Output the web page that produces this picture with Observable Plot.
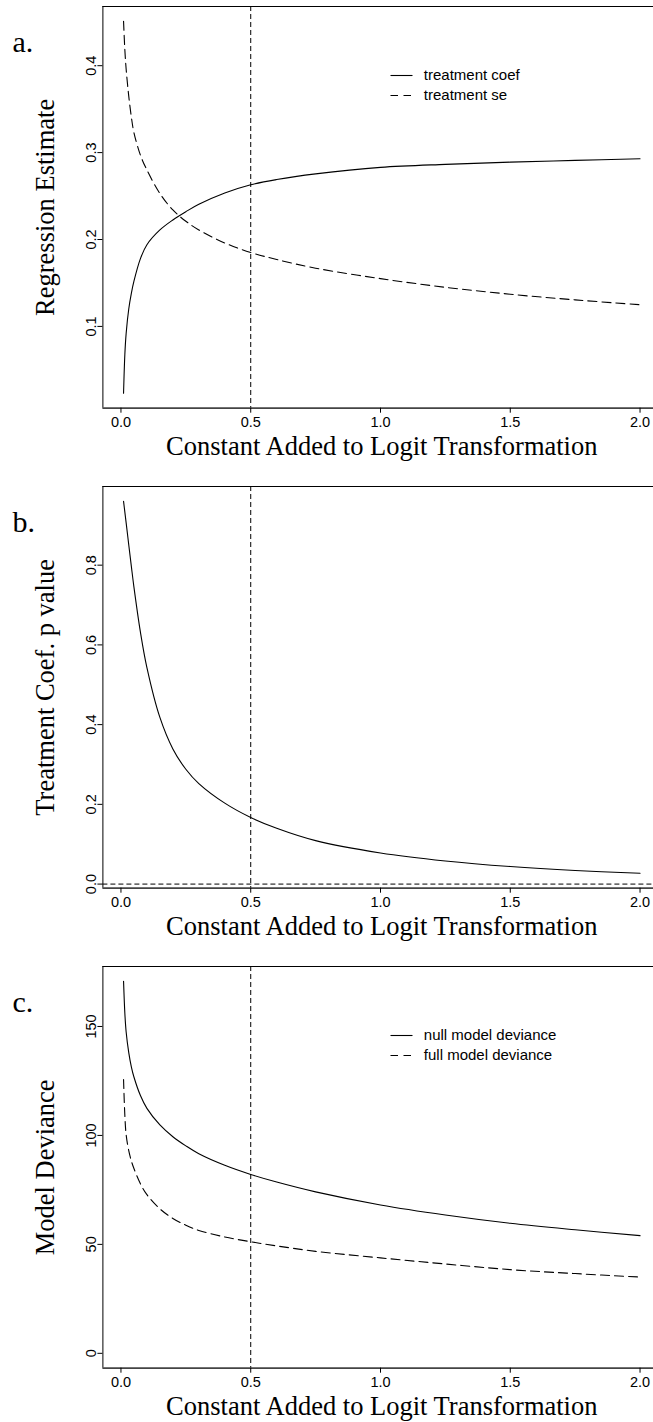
<!DOCTYPE html>
<html><head><meta charset="utf-8">
<script src="https://cdn.jsdelivr.net/npm/d3@7"></script>
<script src="https://cdn.jsdelivr.net/npm/@observablehq/plot@0.6"></script>
<style>body{margin:0;background:#fff;} #chart svg{display:block;}</style>
</head><body><div id="chart"></div>
<script>
// ---- data ----
const constant = [0.01, 0.015, 0.02, 0.03, 0.04, 0.05, 0.075, 0.1, 0.15, 0.2, 0.25, 0.3, 0.4, 0.5, 0.6, 0.75, 1.0, 1.25, 1.5, 1.75, 2.0];
const treatmentCoef = [0.023, 0.068, 0.092, 0.120, 0.138, 0.152, 0.178, 0.194, 0.211, 0.2225, 0.232, 0.2405, 0.2535, 0.263, 0.269, 0.2755, 0.283, 0.2865, 0.289, 0.291, 0.293];
const treatmentSe = [0.451, 0.418, 0.396, 0.365, 0.341, 0.323, 0.297, 0.280, 0.253, 0.234, 0.221, 0.211, 0.196, 0.185, 0.177, 0.167, 0.155, 0.145, 0.137, 0.1305, 0.125];
const pValue = [0.96, 0.933, 0.906, 0.851, 0.797, 0.745, 0.632, 0.543, 0.418, 0.339, 0.288, 0.252, 0.203, 0.167, 0.14, 0.109, 0.078, 0.058, 0.044, 0.034, 0.027];
const nullDeviance = [170.7, 156, 147.5, 138, 131.5, 126.8, 118.3, 112.4, 104.8, 99.4, 95.2, 91.6, 86.3, 82.1, 78.6, 74.1, 68.1, 63.5, 59.7, 56.7, 54.0];
const fullDeviance = [125.7, 109, 100.3, 93.0, 88.3, 84.8, 77.8, 72.8, 66.3, 61.9, 58.8, 56.4, 53.4, 51.2, 49.3, 46.8, 43.8, 41.0, 38.4, 36.6, 35.0];
const xTicks = [0, 0.5, 1, 1.5, 2];
const yTicksA = [0.1, 0.2, 0.3, 0.4];
const yTicksB = [0, 0.2, 0.4, 0.6, 0.8];
const yTicksC = [0, 50, 100, 150];
const refX = 0.5;
const refY = 0;
const xTitle = "Constant Added to Logit Transformation";
const legendA = ["treatment coef", "treatment se"];
const legendC = ["null model deviance", "full model deviance"];

// ---- layout ----
const W = 653, ML = 102.4, MR = -7.2, MB = 60.3;
const SERIF = "'Liberation Serif', 'Times New Roman', serif";
const SANS = "'Liberation Sans', Arial, sans-serif";
const DASH = "9,5", REFDASH = "5,3";

function expand([a, b]) { const r = b - a; return [a - 0.04 * r, b + 0.04 * r]; }

function panel({label, ytitle, series, yTicks, yFmt, legend, includeZero, hline, height, marginTop}) {
  const xDom = expand(d3.extent(constant));
  let ext = d3.extent(series.flatMap(s => s.values));
  if (includeZero) ext = [Math.min(0, ext[0]), ext[1]];
  const yDom = expand(ext);
  const fh = height - marginTop - MB, fw = W - MR - ML;
  const fx = px => xDom[0] + (px - ML) / fw * (xDom[1] - xDom[0]);
  const fy = off => yDom[1] - off / fh * (yDom[1] - yDom[0]);
  const marks = [];
  marks.push(Plot.ruleX([refX], {stroke: "black", strokeWidth: 1, strokeDasharray: REFDASH}));
  if (hline) marks.push(Plot.ruleY([refY], {stroke: "black", strokeWidth: 1, strokeDasharray: REFDASH}));
  for (const s of series) {
    const rows = s.values.map((v, i) => ({x: constant[i], y: v}));
    marks.push(Plot.line(rows, {x: "x", y: "y", curve: "catmull-rom", stroke: "black", strokeWidth: 1.1, strokeDasharray: s.dashed ? DASH : null}));
  }
  // box
  marks.push(Plot.ruleX([xDom[0]], {stroke: "black", strokeWidth: 1}));
  marks.push(Plot.ruleY([yDom[1]], {stroke: "black", strokeWidth: 1}));
  marks.push(Plot.ruleY([yDom[0]], {stroke: "#444", strokeWidth: 1.8}));
  // axes
  marks.push(Plot.axisX(xTicks, {anchor: "bottom", tickSize: 5, tickPadding: 4, tickFormat: d3.format(".1f"), fontSize: 14.5, label: null}));
  marks.push(Plot.axisY(yTicks, {anchor: "left", tickSize: 5, tickPadding: 2, tickRotate: -90, tickFormat: yFmt, fontSize: 14.5, label: null}));
  // titles
  marks.push(Plot.text([label], {frameAnchor: "top-left", dx: 12 - ML, dy: 45, textAnchor: "start", lineAnchor: "bottom", fontFamily: SERIF, fontSize: 30}));
  marks.push(Plot.text([ytitle], {frameAnchor: "left", dx: 53 - ML, rotate: -90, textAnchor: "middle", lineAnchor: "bottom", fontFamily: SERIF, fontSize: 26.5}));
  marks.push(Plot.text([xTitle], {frameAnchor: "bottom", dy: 46.3, textAnchor: "middle", lineAnchor: "bottom", fontFamily: SERIF, fontSize: 26.5}));
  // legend
  if (legend) {
    legend.forEach((name, i) => {
      marks.push(Plot.link([name], {x1: () => fx(390), x2: () => fx(412), y1: () => fy(69 + 20 * i), y2: () => fy(69 + 20 * i), stroke: "black", strokeWidth: 1.1, strokeDasharray: i === 0 ? null : "7.5,5.5"}));
    });
    marks.push(Plot.text(legend, {x: () => fx(423.3), y: (d, i) => fy(69 + 20 * i), text: d => d, textAnchor: "start", fontSize: 15, fontFamily: SANS}));
  }
  return Plot.plot({
    width: W, height, marginLeft: ML, marginRight: MR, marginTop, marginBottom: MB,
    x: {domain: xDom, label: null},
    y: {domain: yDom, label: null},
    style: {fontFamily: SANS, fontSize: "14.5px", color: "black", background: "white"},
    marks
  });
}

const chart = document.getElementById("chart");
chart.append(panel({
  label: "a.", ytitle: "Regression Estimate",
  series: [{values: treatmentCoef, dashed: false}, {values: treatmentSe, dashed: true}],
  yTicks: yTicksA, yFmt: d3.format(".1f"), legend: legendA, includeZero: false, hline: false,
  height: 468, marginTop: 6
}));
chart.append(panel({
  label: "b.", ytitle: "Treatment Coef. p value",
  series: [{values: pValue, dashed: false}],
  yTicks: yTicksB, yFmt: d3.format(".1f"), legend: null, includeZero: false, hline: true,
  height: 480, marginTop: 18
}));
chart.append(panel({
  label: "c.", ytitle: "Model Deviance",
  series: [{values: nullDeviance, dashed: false}, {values: fullDeviance, dashed: true}],
  yTicks: yTicksC, yFmt: d => String(d), legend: legendC, includeZero: true, hline: false,
  height: 480, marginTop: 18
}));
</script>
</body></html>
